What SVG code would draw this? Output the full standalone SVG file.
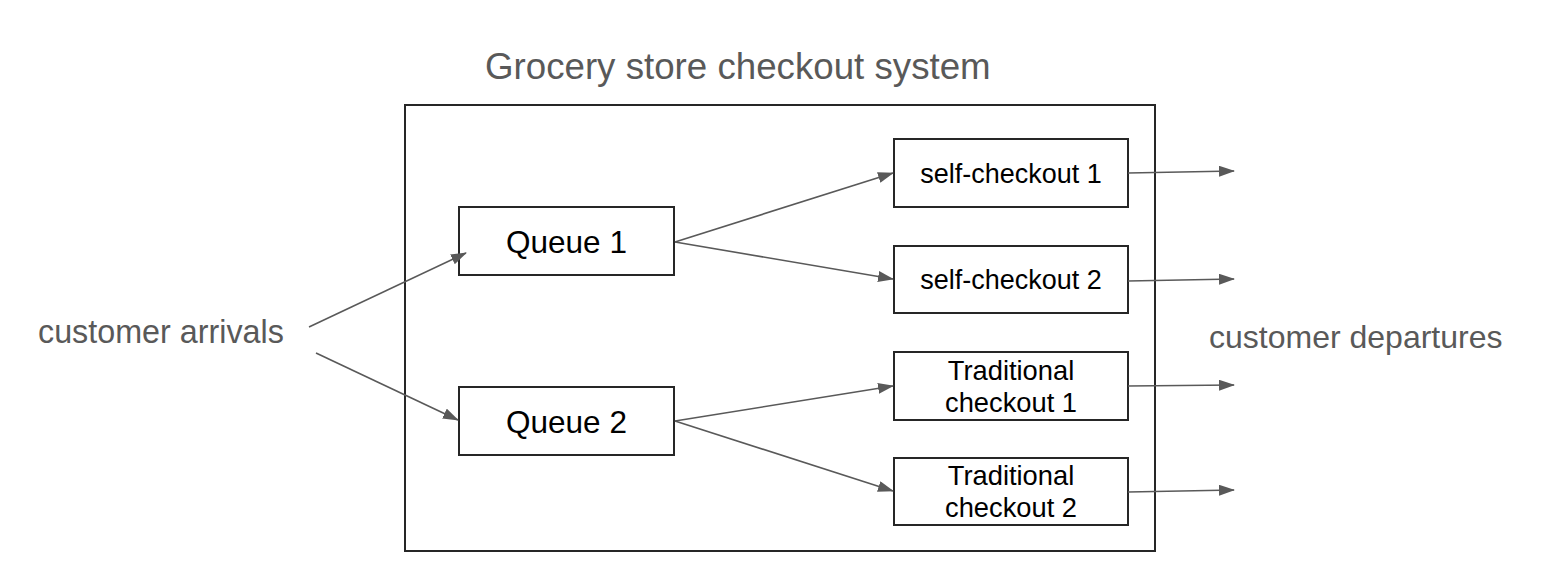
<svg xmlns="http://www.w3.org/2000/svg" width="1560" height="580" viewBox="0 0 1560 580">
<defs>
<marker id="ah" markerUnits="userSpaceOnUse" markerWidth="16" markerHeight="12" refX="15" refY="5.5" orient="auto">
<path d="M0,0 L16,5.5 L0,11 z" fill="#595959"/>
</marker>
<style>
.box{fill:#fff;stroke:#262626;stroke-width:2}
.lbl{font-family:"Liberation Sans",Arial,sans-serif;fill:#595959}
.nt{font-family:"Liberation Sans",Arial,sans-serif;fill:#000;text-anchor:middle}
.c{fill:none;stroke:#595959;stroke-width:1.6;marker-end:url(#ah)}
</style>
</defs>
<rect width="1560" height="580" fill="#fff"/>
<g id="system">
<rect x="405" y="105" width="750" height="446" fill="none" stroke="#262626" stroke-width="2"/>
<text class="lbl" x="485" y="79" font-size="36.7">Grocery store checkout system</text>
</g>
<g id="arrivals"><text class="lbl" x="38" y="343" font-size="32.3">customer arrivals</text></g>
<g id="departures"><text class="lbl" x="1209" y="348" font-size="32">customer departures</text></g>
<g id="queue1"><rect class="box" x="459" y="207" width="215" height="68"/><text class="nt" x="566.5" y="253" font-size="31.5">Queue 1</text></g>
<g id="queue2"><rect class="box" x="459" y="387" width="215" height="68"/><text class="nt" x="566.5" y="433" font-size="31.5">Queue 2</text></g>
<g id="self1"><rect class="box" x="894" y="139" width="234" height="68"/><text class="nt" x="1011" y="183" font-size="27">self-checkout 1</text></g>
<g id="self2"><rect class="box" x="894" y="246" width="234" height="67"/><text class="nt" x="1011" y="289" font-size="27">self-checkout 2</text></g>
<g id="trad1"><rect class="box" x="894" y="352" width="234" height="68"/><text class="nt" x="1011" font-size="27.3"><tspan x="1011" y="380">Traditional</tspan><tspan x="1011" y="412">checkout 1</tspan></text></g>
<g id="trad2"><rect class="box" x="894" y="458" width="234" height="67"/><text class="nt" x="1011" font-size="27.3"><tspan x="1011" y="485">Traditional</tspan><tspan x="1011" y="517">checkout 2</tspan></text></g>
<g id="connectors">
<line class="c" x1="309" y1="327" x2="466" y2="253"/>
<line class="c" x1="316" y1="353" x2="458" y2="420"/>
<line class="c" x1="675" y1="242" x2="893" y2="173"/>
<line class="c" x1="675" y1="242" x2="893" y2="279"/>
<line class="c" x1="675" y1="421" x2="893" y2="386"/>
<line class="c" x1="675" y1="421" x2="893" y2="491"/>
<line class="c" x1="1128" y1="173" x2="1234" y2="171"/>
<line class="c" x1="1128" y1="281" x2="1234" y2="279"/>
<line class="c" x1="1128" y1="386" x2="1234" y2="385"/>
<line class="c" x1="1128" y1="492" x2="1234" y2="490"/>
</g>
</svg>
